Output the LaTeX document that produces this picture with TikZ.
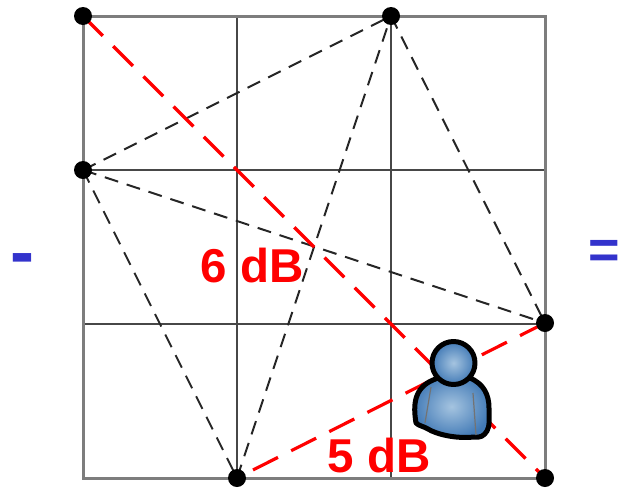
\documentclass[tikz,border=0pt]{standalone}
\usepackage{fontspec}
\setmainfont{Liberation Sans}
\definecolor{cmred}{RGB}{255,0,0}
\definecolor{cmgrid}{RGB}{125,125,125}
\definecolor{cmop}{RGB}{51,51,204}
\definecolor{cmlight}{RGB}{165,196,224}
\definecolor{cmdark}{RGB}{66,122,182}
\tikzset{
  outer/.style={draw=cmgrid, line width=3pt},
  inner/.style={draw=black!72, line width=1.6pt},
  anchorpt/.style={circle, fill=black, inner sep=0pt, minimum size=18pt},
  sidelink/.style={draw=black!85, line width=2pt, dash pattern=on 14pt off 9pt},
  redlink/.style={draw=cmred, line width=3.2pt, dash pattern=on 28pt off 14.7pt},
  lab/.style={font=\bfseries\fontsize{47.5}{50}\selectfont, text=cmred, inner sep=0pt},
  oper/.style={font=\bfseries\fontsize{54}{56}\selectfont, text=cmop, inner sep=0pt},
  user/.style={draw=black, line width=5pt, line join=round, inner color=cmlight, outer color=cmdark}
}
\begin{document}
\begin{tikzpicture}[x=1pt, y=-1pt]
  \useasboundingbox (0,0) rectangle (620,488);
  % grid
  \draw[inner] (237,16) -- (237,478) (391,16) -- (391,478);
  \draw[inner] (83,170) -- (545,170) (83,324) -- (545,324);
  \draw[outer] (83,16) rectangle (545,478);
  % anchor positions
  \coordinate (c1) at (83,16);
  \coordinate (c2) at (391,16);
  \coordinate (c3) at (83,170);
  \coordinate (c4) at (545,323);
  \coordinate (c5) at (237,478);
  \coordinate (c6) at (545,478);
  % links
  \draw[sidelink] (c3) -- (c2);
  \draw[sidelink] (c3) -- (c4);
  \draw[sidelink] (c3) -- (c5);
  \draw[sidelink] (c5) -- (c2);
  \draw[sidelink] (c2) -- (c4);
  \draw[redlink] (c1) -- (c6);
  \draw[redlink] (c4) -- (c5);
  % anchors
  \node[anchorpt] (a1) at (c1) {};
  \node[anchorpt] (a2) at (c2) {};
  \node[anchorpt] (a3) at (c3) {};
  \node[anchorpt] (a4) at (c4) {};
  \node[anchorpt] (a5) at (c5) {};
  \node[anchorpt] (a6) at (c6) {};
  % user
  \draw[user] (416,423) .. controls (413,405) and (414,388) .. (433,380)
    .. controls (445,374) and (462,374) .. (470,378)
    .. controls (484,384) and (489,395) .. (489,408)
    .. controls (489,418) and (490,426) .. (487,431)
    .. controls (484,436) and (480,438) .. (474,437)
    .. controls (455,439) and (436,434) .. (428,429)
    .. controls (423,426) and (419,426) .. (416,423) -- cycle;
  \draw[draw=black!55, line width=1.2pt] (431,387) -- (425,423) (473,393) -- (476,435);
  \node[user, circle, minimum size=43pt, inner sep=0pt] (head) at (453.5,363) {};
  % labels
  \node[lab] (db6) at (252,266) {6 dB};
  \node[lab] (db5) at (379,456) {5 dB};
  \node[oper, font=\bfseries\fontsize{72}{74}\selectfont] (minus) at (22.5,265) {-};
  \node[oper, anchor=east] (equal) at (620,254) {=};
\end{tikzpicture}
\end{document}
